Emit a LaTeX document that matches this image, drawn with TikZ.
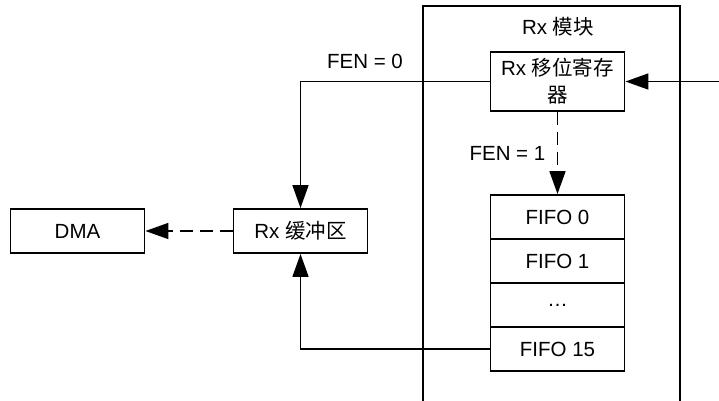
\documentclass[tikz,border=0pt]{standalone}
\usepackage{fontspec}
\setmainfont{Liberation Sans}
\newfontfamily\cjk{Noto Sans CJK SC}
\usetikzlibrary{arrows.meta}

\begin{document}
\begin{tikzpicture}[
  x=1pt, y=-1pt,
  font=\fontsize{20.5}{27}\selectfont,
  line width=1.7pt,
  blk/.style={rectangle, draw, line width=1.9pt, inner sep=2pt, align=center,
              minimum width=134pt, minimum height=44pt},
  fifo/.style={blk},
  arr/.style={-{Triangle[length=23pt,width=16pt]}, line width=1.7pt},
  dsh/.style={arr, dash pattern=on 13pt off 7pt},
]
\useasboundingbox (0,0) rectangle (719,400);

% ---- Rx module frame ----
\draw[line width=1.9pt] (423,402) |- (680,6) -- (680,402);
\node (modtitle) at (558,27) {Rx {\cjk 模块}};

% ---- blocks ----
\node[blk, minimum height=59pt] (sreg) at (557.5,81.5) {Rx {\cjk 移位寄存}\\{\cjk 器}};
\node[blk] (rxbuf) at (300.5,231) {Rx {\cjk 缓冲区}};
\node[blk] (dma) at (77.5,231) {DMA};

% FIFO 0 .. FIFO 15 stack
\foreach \i/\t in {0/FIFO 0, 1/FIFO 1, 2/\dots, 3/FIFO 15}{
  \node[fifo] (fifo\i) at (557.5,{217+44*\i}) {\t};
}

% ---- connectors ----
\coordinate (rxin) at (719,81.5);
\draw[arr] (rxin) -- (sreg.east);
\draw[arr] (sreg.west) -| (rxbuf.north);
\node (fen0) at (365,61) {FEN = 0};
\draw[dsh] (sreg.south) -- node[left=8pt] {FEN = 1} (fifo0.north);
\draw[arr] (fifo3.west) -| (rxbuf.south);
\draw[dsh] (rxbuf.west) -- (dma.east);

\end{tikzpicture}
\end{document}
